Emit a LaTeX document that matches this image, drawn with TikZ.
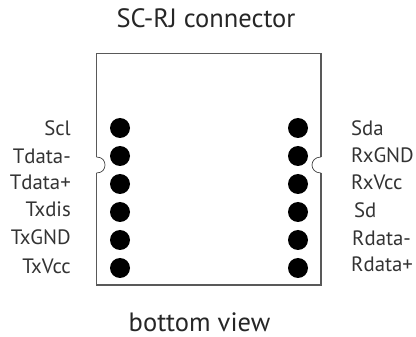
\documentclass[tikz,border=0pt]{standalone}
\usepackage{fontspec}
\setmainfont{PT Sans}
\tikzset{
  pin dot/.style={circle,fill=black,inner sep=0pt,minimum size=20pt},
  lefttext/.style={anchor=base east,inner sep=0pt,text=black!80,font=\fontsize{20.8}{23}\selectfont},
  righttext/.style={anchor=base west,inner sep=0pt,text=black!80,font=\fontsize{20.8}{23}\selectfont},
  captiontext/.style={anchor=base,inner sep=0pt,text=black!85,font=\fontsize{26.5}{30}\selectfont},
  body/.style={draw=black!65,line width=1.1pt,line join=miter},
  notch/.style={draw=black!75,line width=0.7pt}
}
\begin{document}
\begin{tikzpicture}[x=1pt,y=-1pt]
\useasboundingbox (0,0) rectangle (416,337);
\draw[body] (321,157) -- (321,53.5) -- (96.5,53.5) -- (96.5,157);
\draw[body] (321,173) -- (321,285) -- (96.5,285) -- (96.5,173);
\draw[notch] (321,157)
  .. controls (315,157) and (312,161) .. (312,165)
  .. controls (312,169) and (315,173) .. (321,173);
\draw[notch] (96.5,173)
  .. controls (102.5,173) and (105,169) .. (105,165)
  .. controls (105,161) and (102.5,157) .. (96.5,157);
\foreach \n/\y in {1/128,2/156,3/184,4/212,5/240,6/268}{
  \node[pin dot] (l\n) at (120,\y) {};
  \node[pin dot] (r\n) at (298,\y) {};
}
\node[captiontext] (title) at (206,28) {SC-RJ connector};
\node[captiontext] (view) at (199.5,331) {bottom view};
\node[lefttext] (scl) at (71,136) {Scl};
\node[lefttext] (tdm) at (71,164) {Tdata-};
\node[lefttext] (tdp) at (71,190) {Tdata+};
\node[lefttext] (txd) at (71,217) {Txdis};
\node[lefttext] (txg) at (71,245) {TxGND};
\node[lefttext] (txv) at (71,273) {TxVcc};
\node[righttext] (sda) at (351,136) {Sda};
\node[righttext] (rxg) at (351,163) {RxGND};
\node[righttext] (rxv) at (351,190) {RxVcc};
\node[righttext] (sd) at (354,218) {Sd};
\node[righttext] (rdm) at (352,246) {Rdata-};
\node[righttext] (rdp) at (351,272) {Rdata+};
\end{tikzpicture}
\end{document}
